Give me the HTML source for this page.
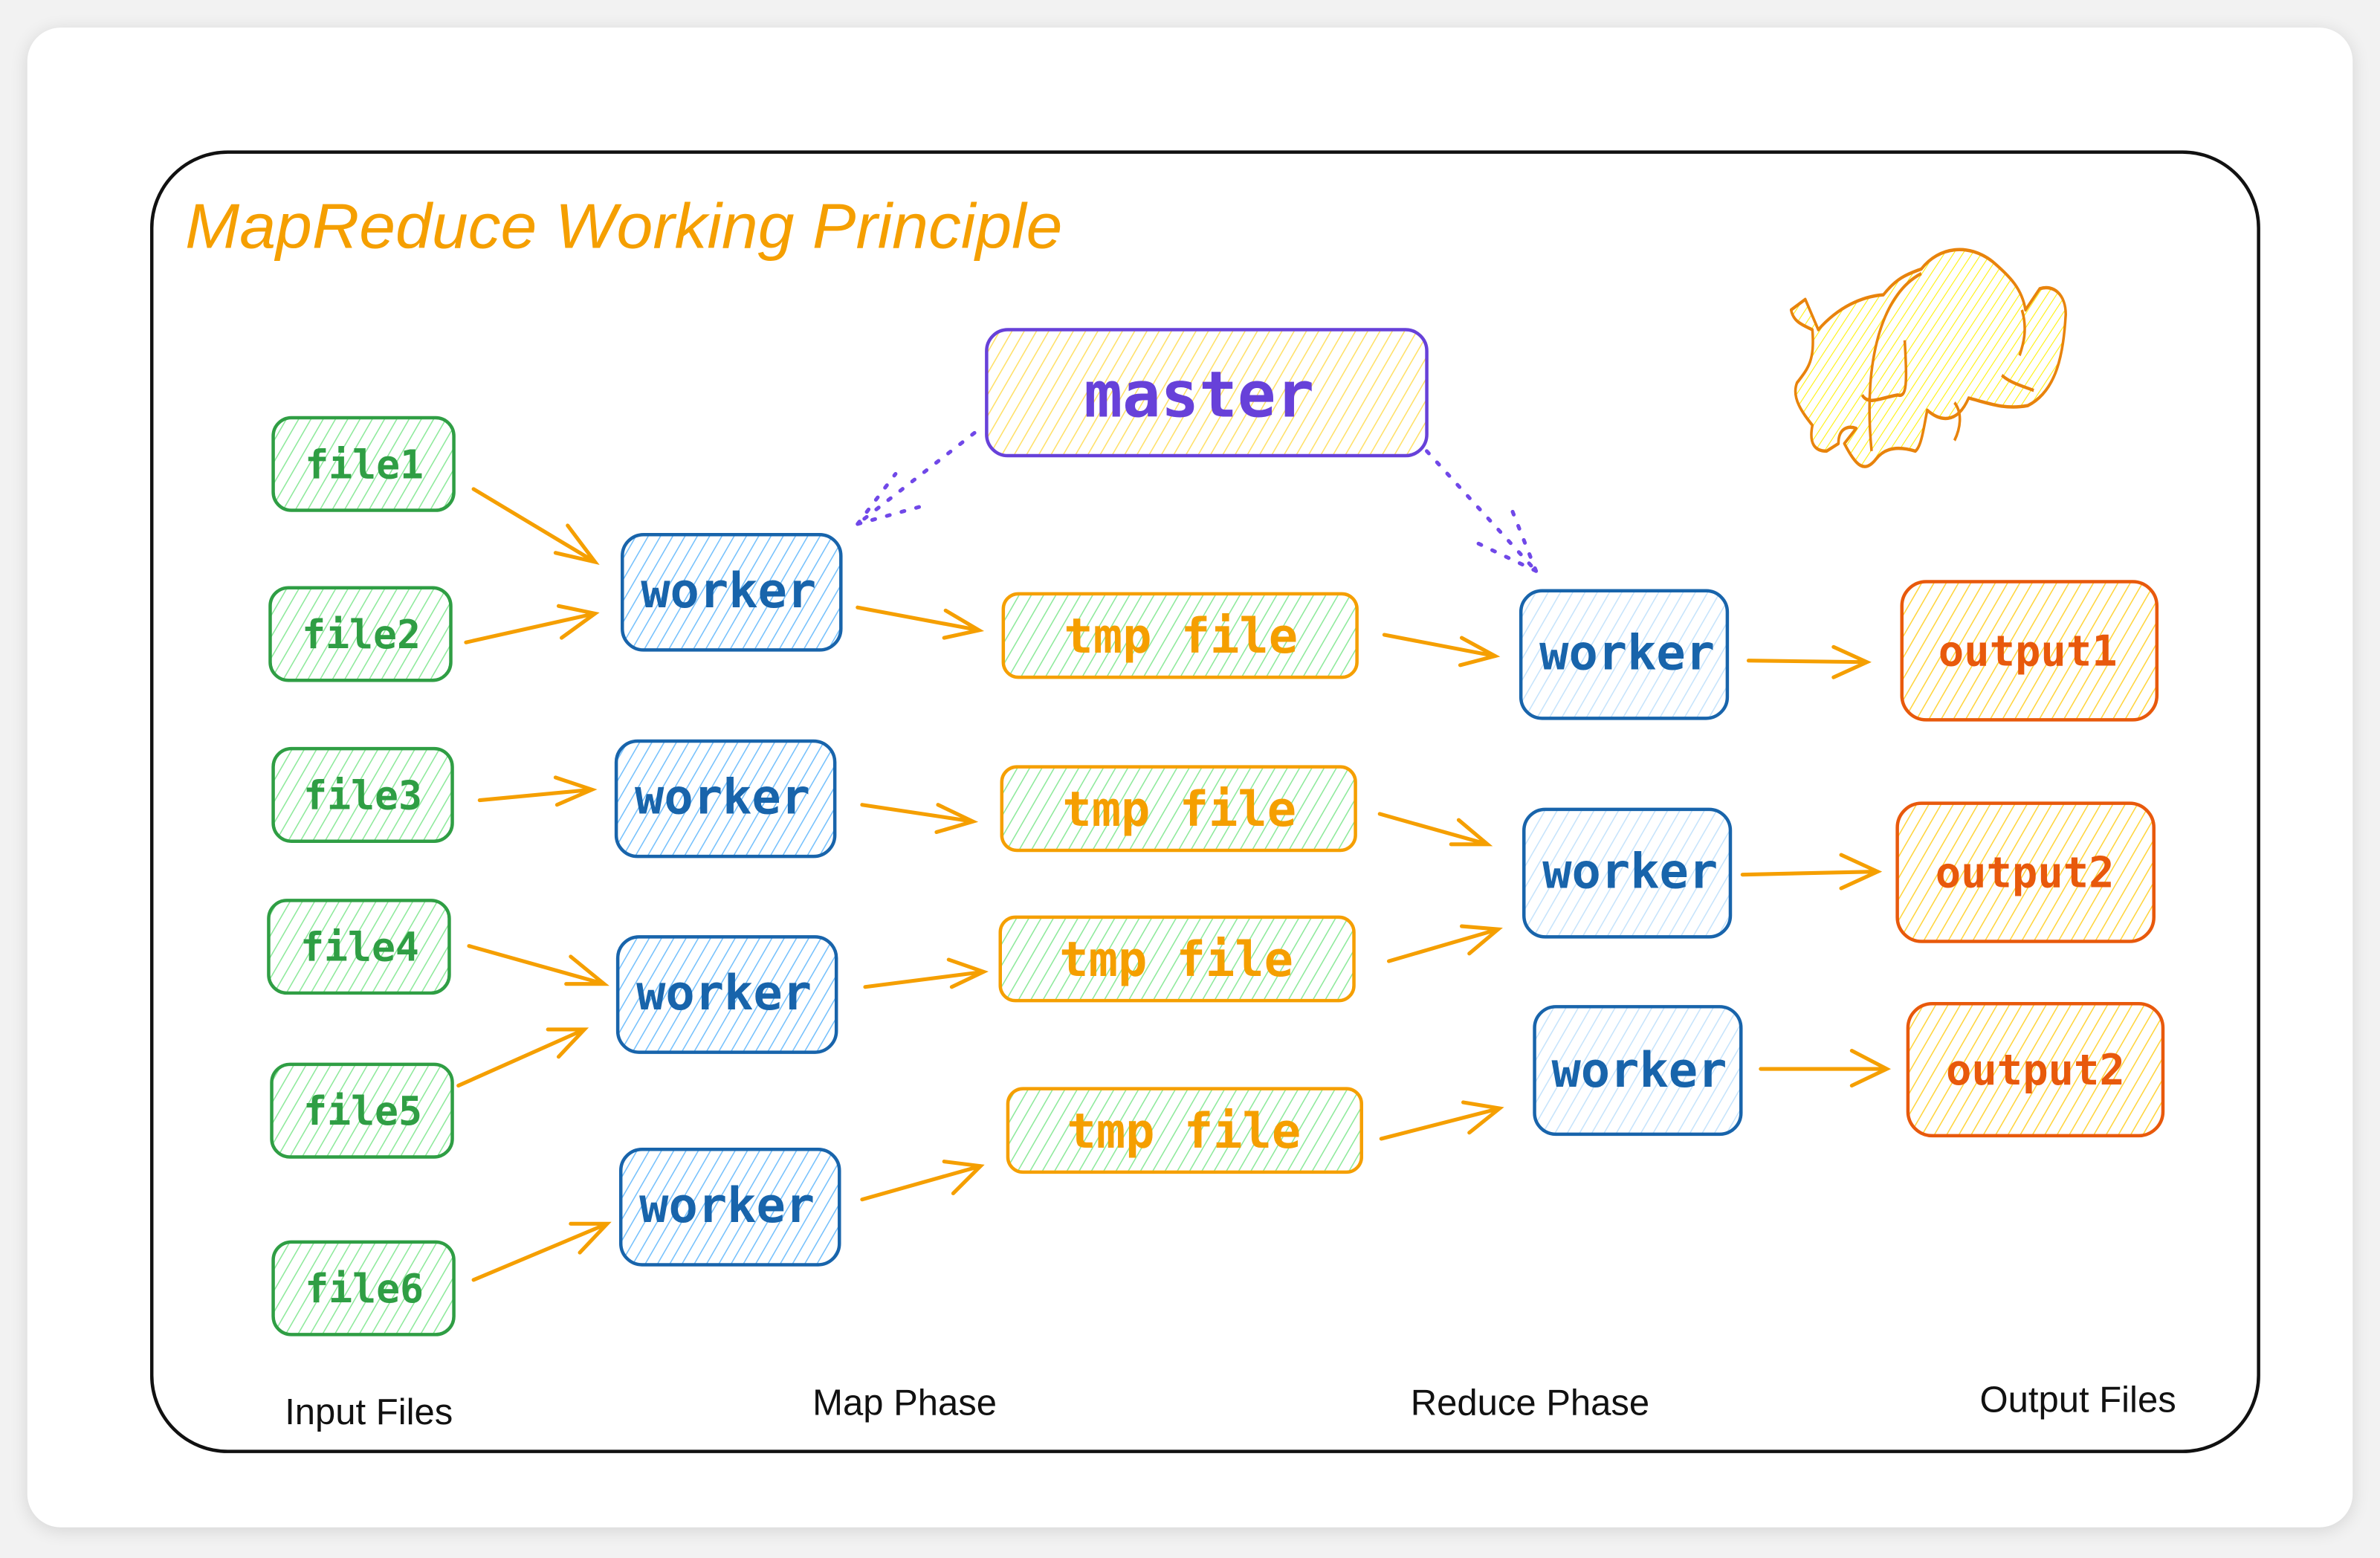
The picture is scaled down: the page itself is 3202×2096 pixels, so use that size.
<!DOCTYPE html>
<html><head><meta charset="utf-8"><style>
html,body{margin:0;padding:0;background:#f2f2f2;}
svg{display:block}
</style></head><body>
<svg width="3202" height="2096" viewBox="0 0 1568 1026" xmlns="http://www.w3.org/2000/svg">
<defs>
<filter id="sh" x="-5%" y="-5%" width="110%" height="110%"><feGaussianBlur stdDeviation="6"/></filter>
<pattern id="hg" width="7" height="7" patternUnits="userSpaceOnUse" patternTransform="rotate(30)"><line x1="0" y1="0" x2="0" y2="7" stroke="#8ce99a" stroke-width="1.5"/></pattern>
<pattern id="hb" width="7" height="7" patternUnits="userSpaceOnUse" patternTransform="rotate(30)"><line x1="0" y1="0" x2="0" y2="7" stroke="#74c0fc" stroke-width="1.5"/></pattern>
<pattern id="hlb" width="7" height="7" patternUnits="userSpaceOnUse" patternTransform="rotate(30)"><line x1="0" y1="0" x2="0" y2="7" stroke="#c5e3fb" stroke-width="1.5"/></pattern>
<pattern id="hy" width="7" height="7" patternUnits="userSpaceOnUse" patternTransform="rotate(30)"><line x1="0" y1="0" x2="0" y2="7" stroke="#ffe066" stroke-width="1.5"/></pattern>
<pattern id="ho" width="7" height="7" patternUnits="userSpaceOnUse" patternTransform="rotate(30)"><line x1="0" y1="0" x2="0" y2="7" stroke="#ffd43b" stroke-width="1.5"/></pattern>
<pattern id="hel" width="6" height="6" patternUnits="userSpaceOnUse" patternTransform="rotate(40)"><line x1="0" y1="0" x2="0" y2="6" stroke="#fff000" stroke-width="1.2"/></pattern>
</defs>
<rect x="0" y="0" width="1568" height="1026" fill="#f2f2f2"/>
<rect x="18" y="20" width="1532" height="988" rx="22" fill="#000" opacity="0.12" filter="url(#sh)"/>
<rect x="18" y="18" width="1532" height="988" rx="22" fill="#fff"/>
<rect x="100" y="100" width="1388" height="856" rx="50" fill="none" stroke="#111" stroke-width="2.2"/>
<text x="122" y="163" font-family="Liberation Sans, sans-serif" font-style="italic" font-size="42" fill="#f59f00" textLength="578" lengthAdjust="spacingAndGlyphs">MapReduce Working Principle</text>

<g font-family="DejaVu Sans Mono, Liberation Mono, monospace" font-weight="bold" text-anchor="middle" dominant-baseline="central">
<rect x="650" y="217" width="290" height="83" rx="14" fill="url(#hy)" stroke="#6741d9" stroke-width="2.2"/>
<text x="790" y="260" font-size="42" fill="#6741d9">master</text>

<g stroke="#2f9e44" stroke-width="2.2" fill="url(#hg)">
<rect x="180" y="275" width="119" height="61" rx="12"/>
<rect x="178" y="387" width="119" height="61" rx="12"/>
<rect x="180" y="493" width="118" height="61" rx="12"/>
<rect x="177" y="593" width="119" height="61" rx="12"/>
<rect x="179" y="701" width="119" height="61" rx="12"/>
<rect x="180" y="818" width="119" height="61" rx="12"/>
</g>
<g font-size="26" fill="#2f9e44">
<text x="240" y="306">file1</text><text x="238" y="418">file2</text><text x="239" y="524">file3</text>
<text x="237" y="624">file4</text><text x="239" y="732">file5</text><text x="240" y="849">file6</text>
</g>

<g stroke="#1864ab" stroke-width="2.2" fill="url(#hb)">
<rect x="410" y="352" width="144" height="76" rx="14"/>
<rect x="406" y="488" width="144" height="76" rx="14"/>
<rect x="407" y="617" width="144" height="76" rx="14"/>
<rect x="409" y="757" width="144" height="76" rx="14"/>
</g>
<g font-size="32" fill="#1864ab">
<text x="480" y="389">worker</text><text x="476" y="525">worker</text><text x="477" y="654">worker</text><text x="479" y="794">worker</text>
</g>

<g stroke="#f59f00" stroke-width="2.2" fill="url(#hg)">
<rect x="661" y="391" width="233" height="55" rx="10"/>
<rect x="660" y="505" width="233" height="55" rx="10"/>
<rect x="659" y="604" width="233" height="55" rx="10"/>
<rect x="664" y="717" width="233" height="55" rx="10"/>
</g>
<g font-size="32" fill="#f59f00">
<text x="778" y="419">tmp file</text><text x="777" y="533">tmp file</text><text x="775" y="632">tmp file</text><text x="780" y="745">tmp file</text>
</g>

<g stroke="#1864ab" stroke-width="2.2" fill="url(#hlb)">
<rect x="1002" y="389" width="136" height="84" rx="14"/>
<rect x="1004" y="533" width="136" height="84" rx="14"/>
<rect x="1011" y="663" width="136" height="84" rx="14"/>
</g>
<g font-size="32" fill="#1864ab">
<text x="1072" y="430">worker</text><text x="1074" y="574">worker</text><text x="1080" y="705">worker</text>
</g>

<g stroke="#e8590c" stroke-width="2.2" fill="url(#ho)">
<rect x="1253" y="383" width="168" height="91" rx="16"/>
<rect x="1250" y="529" width="169" height="91" rx="16"/>
<rect x="1257" y="661" width="168" height="87" rx="16"/>
</g>
<g font-size="28" fill="#e8590c">
<text x="1336" y="429">output1</text><text x="1334" y="575">output2</text><text x="1341" y="705">output2</text>
</g>
</g>

<g stroke="#f59f00" stroke-width="2.5" fill="none" stroke-linecap="round">
<path d="M312 322L392 370M366 364L392 370L374 346"/>
<path d="M307 423L392 404M368 399L392 404L370 420"/>
<path d="M316 527L390 520M366 512L390 520L367 530"/>
<path d="M309 623L398 648M376 630L398 648L373 648"/>
<path d="M302 715L385 678M361 678L385 678L368 696"/>
<path d="M312 843L400 806M376 806L400 806L382 825"/>
<path d="M565 400L645 415M623 402L645 415L622 420"/>
<path d="M568 530L641 541M618 530L641 541L617 548"/>
<path d="M570 650L648 640M625 632L648 640L627 650"/>
<path d="M568 790L646 768M622 765L646 768L628 786"/>
<path d="M912 418L985 432M963 420L985 432L962 438"/>
<path d="M909 536L980 556M961 540L980 556L956 556"/>
<path d="M915 633L987 612M963 610L987 612L968 628"/>
<path d="M910 750L988 730M964 726L988 730L968 746"/>
<path d="M1152 435L1230 436M1208 426L1230 436L1208 446"/>
<path d="M1148 576L1237 574M1213 563L1237 574L1213 585"/>
<path d="M1160 704L1243 704M1220 692L1243 704L1220 715"/>
</g>
<g stroke="#7048e8" stroke-width="2.5" fill="none" stroke-dasharray="2 8" stroke-linecap="round">
<path d="M642 285L565 345M565 345L612 332M565 345L590 312"/>
<path d="M940 297L1012 376M1012 376L970 356M1012 376L995 333"/>
</g>

<g transform="translate(1180,162) scale(0.78,1)">
<path d="M23 55 C40 40 60 33 78 32 C90 20 100 18 110 15 C125 0 150 -2 170 10 C185 20 195 28 198 42 L210 28 C222 25 232 32 232 45 C230 70 225 95 200 105 C180 108 165 103 150 100 C140 118 125 115 115 108 C112 120 110 132 105 135 C92 132 80 132 72 140 C62 150 55 145 45 130 L55 120 C48 118 40 120 40 130 L30 135 C20 135 15 130 18 118 C10 110 0 100 5 90 C15 80 20 75 18 55 C10 52 2 50 0 42 L12 35 Z" fill="url(#hel)" stroke="#e8830c" stroke-width="2.2" stroke-linejoin="round"/>
<path d="M110 18 C80 30 60 70 68 135 M96 62 C98 90 98 100 90 98 C75 100 65 105 60 98 M138 103 C145 110 143 120 138 128 M178 85 C185 90 195 92 205 95 M195 42 C200 55 196 65 193 72" fill="none" stroke="#e8830c" stroke-width="2.2"/>
</g>

<g font-family="Liberation Sans, sans-serif" font-size="24" fill="#111" text-anchor="middle">
<text x="243" y="938">Input Files</text>
<text x="596" y="932">Map Phase</text>
<text x="1008" y="932">Reduce Phase</text>
<text x="1369" y="930">Output Files</text>
</g>
</svg>
</body></html>
